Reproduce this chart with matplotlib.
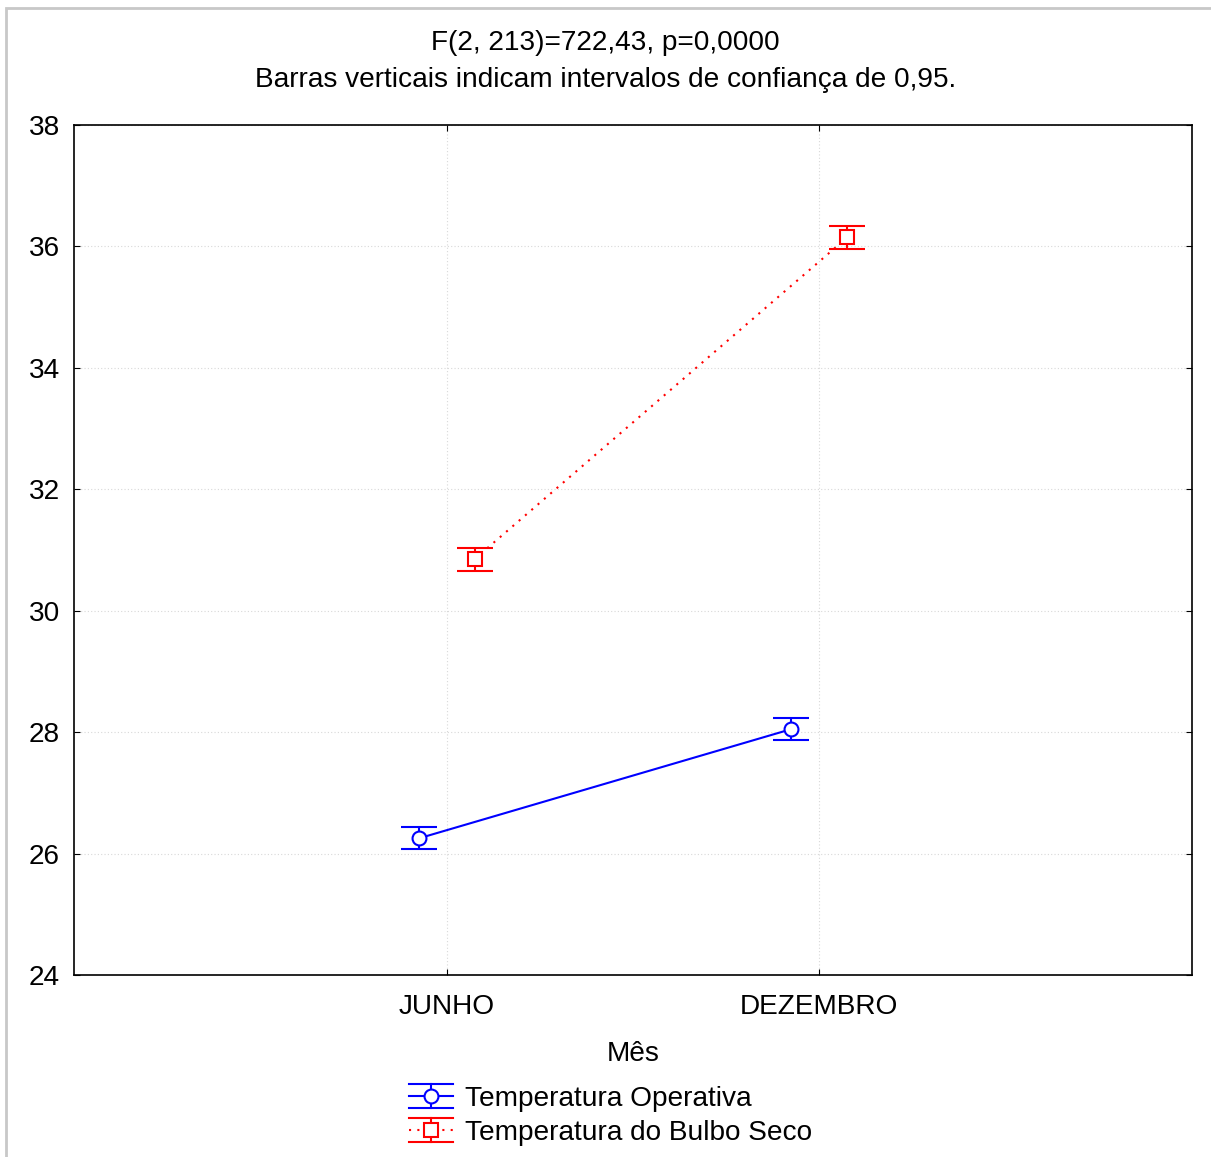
import matplotlib
matplotlib.use("Agg")
import matplotlib.pyplot as plt
from matplotlib.legend_handler import HandlerBase
from matplotlib.lines import Line2D
import numpy as np

plt.rcParams['font.family'] = ['Liberation Sans', 'DejaVu Sans']

meses = ['JUNHO', 'DEZEMBRO']
operativa = [26.25, 28.05]
operativa_ci = [0.18, 0.18]
bulbo_seco = [30.85, 36.15]
bulbo_seco_ci = [0.19, 0.19]


class ErrHandler(HandlerBase):
    # legenda no estilo Statistica: tampas largas ocupando todo o simbolo
    def __init__(self, ls='-', **kw):
        super().__init__(**kw)
        self.ls = ls

    def create_artists(self, legend, orig_handle, xdescent, ydescent,
                       width, height, fontsize, trans):
        ln = orig_handle.lines[0]
        c = ln.get_color()
        x0, x1 = -xdescent, -xdescent + width
        y = height / 2 - ydescent
        h = height * 0.62
        xm = (x0 + x1) / 2
        arts = [
            Line2D([x0, x1], [y, y], color=c, lw=1.5, ls=self.ls),
            Line2D([x0, x1], [y + h, y + h], color=c, lw=1.5),
            Line2D([x0, x1], [y - h, y - h], color=c, lw=1.5),
            Line2D([xm, xm], [y - h, y + h], color=c, lw=1.5),
            Line2D([xm], [y], marker=ln.get_marker(), ms=10, mfc='white',
                   mec=c, mew=1.5, ls='none'),
        ]
        for a in arts:
            a.set_transform(trans)
        return arts


fig = plt.figure(figsize=(12.11, 11.57), dpi=100)
ax = fig.add_axes([74/1211, 1 - 975/1157, (1192-74)/1211, (975-125)/1157])

x = np.arange(len(meses))
c1 = ax.errorbar(x - 0.075, operativa, yerr=operativa_ci, color='#0000ff', lw=1.5,
                 marker='o', ms=10, mfc='white', mec='#0000ff', mew=1.5,
                 capsize=13, capthick=1.5, elinewidth=1.5)
c2 = ax.errorbar(x + 0.075, bulbo_seco, yerr=bulbo_seco_ci, color='#ff0000', lw=1.5,
                 ls=(0, (1, 3)), marker='s', ms=10, mfc='white', mec='#ff0000', mew=1.5,
                 capsize=13, capthick=1.5, elinewidth=1.5)

ax.set_xlim(-1, 2)
ax.set_ylim(24, 38)
ax.set_xticks(x)
ax.set_xticklabels(meses)
ax.set_yticks(np.arange(24, 39, 2))
ax.tick_params(labelsize=20.2, direction='in', length=4, top=True, right=True)
ax.tick_params(axis='x', pad=14)
ax.tick_params(axis='y', pad=10)
ax.grid(True, color='#d8d8d8', ls=(0, (1, 2)), lw=0.8)
for s in ax.spines.values():
    s.set_linewidth(1.2)

ax.set_xlabel('Mês', fontsize=20.2, labelpad=15)
fig.text(0.5, 1 - 43/1157, 'F(2, 213)=722,43, p=0,0000', ha='center', va='center', fontsize=20.2)
fig.text(0.5, 1 - 80/1157, 'Barras verticais indicam intervalos de confiança de 0,95.',
         ha='center', va='center', fontsize=20.2)

fig.legend(handles=[c1, c2],
           labels=['Temperatura Operativa', 'Temperatura do Bulbo Seco'],
           handler_map={c1: ErrHandler('-'), c2: ErrHandler((0, (1, 3)))},
           loc='upper left', bbox_to_anchor=(395/1211, 1 - 1072/1157), frameon=False,
           fontsize=20.2, handlelength=1.55, handletextpad=0.45, labelspacing=0.28,
           borderpad=0)

# moldura cinza
fig.add_artist(plt.Rectangle((6/1211, -0.01), 1.0, 1 - 8/1157 + 0.01,
                             transform=fig.transFigure, fill=False,
                             ec='#c8c8c8', lw=2))

fig.savefig('out.png', dpi=100)
